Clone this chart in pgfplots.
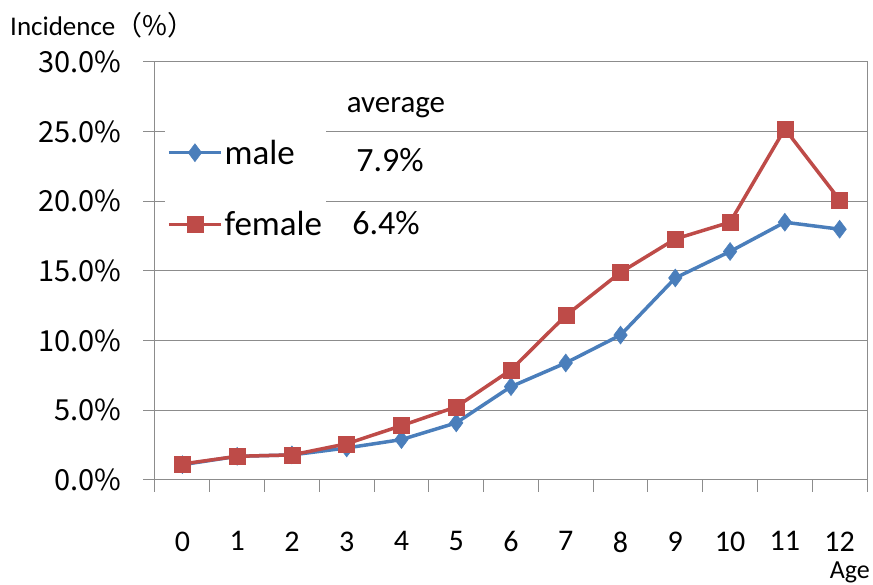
\documentclass[border=0pt]{standalone}
\usepackage{pgfplots}
\pgfplotsset{compat=1.18}
\usepackage{fontspec}
\setmainfont{Carlito}
\newfontfamily\jpfont{Noto Sans CJK JP}
\definecolor{maleblue}{HTML}{4A7EBB}
\definecolor{femred}{HTML}{BE4B48}
\definecolor{gridgray}{HTML}{8C8C8C}

\begin{document}
\begin{tikzpicture}
\begin{axis}[
    name=ax,
    scale only axis,
    width=712pt, height=418pt,
    xmin=-0.5, xmax=12.5, ymin=0, ymax=30,
    xtick={0,...,12},
    major x tick style={draw=none},
    minor xtick={-0.5,0.5,...,12.5},
    xticklabel style={font=\fontsize{30}{30}\selectfont, yshift=-36pt},
    ytick={0,5,...,30},
    yticklabel={\pgfmathprintnumber[fixed,fixed zerofill,precision=1]{\tick}\%},
    yticklabel style={font=\jpfont\fontsize{29}{29}\selectfont, xshift=-18pt},
    /pgf/number format/assume math mode=true,
    ymajorgrids,
    grid style={gridgray, line width=1pt},
    axis line style={gridgray, line width=1pt},
    every tick/.style={gridgray, line width=1pt},
    tick align=outside,
    major tick length=12pt, minor tick length=12pt,
    tick pos=left,
    clip=false,
    legend cell align=left,
    legend style={
        at={(rel axis cs:0.014,0.843)}, anchor=north west,
        draw=none, fill=white,
        font=\fontsize{35}{35}\selectfont,
        row sep=42pt,
        inner xsep=2pt, inner ysep=10pt,
    },
    legend image code/.code={
        \draw[mark repeat=2, mark phase=2] plot coordinates {(0pt,0pt) (26pt,0pt) (52pt,0pt)};
    },
]

% male
\addplot[color=maleblue, line width=3.5pt, mark=diamond*, mark size=9pt,
    mark options={solid, line width=0.5pt}] coordinates {
    (0,1.1) (1,1.7) (2,1.8) (3,2.3) (4,2.9) (5,4.1) (6,6.7)
    (7,8.4) (8,10.4) (9,14.5) (10,16.4) (11,18.5) (12,18.0)
};
\addlegendentry{male}

% female
\addplot[color=femred, line width=3.5pt, mark=square*, mark size=8pt,
    mark options={solid, line width=0.5pt}] coordinates {
    (0,1.15) (1,1.7) (2,1.8) (3,2.6) (4,3.9) (5,5.25) (6,7.9)
    (7,11.8) (8,14.9) (9,17.3) (10,18.5) (11,25.2) (12,20.1)
};
\addlegendentry{female}

\end{axis}

\node[font=\fontsize{31}{31}\selectfont] at ([shift={(241pt,372pt)}]ax.south west) {average};
\node[font=\fontsize{34}{34}\selectfont] at ([shift={(235pt,320pt)}]ax.south west) {7.9\%};
\node[font=\fontsize{34}{34}\selectfont] at ([shift={(231pt,257pt)}]ax.south west) {6.4\%};
\node[anchor=west, inner sep=0pt, font=\fontsize{27}{27}\selectfont]
    at ([shift={(-145pt,455pt)}]ax.south west) {Incidence{\jpfont （\%）}};
\node[anchor=east, inner sep=0pt, font=\fontsize{26}{26}\selectfont]
    at ([shift={(715pt,-92pt)}]ax.south west) {Age};

\pgfresetboundingbox
\path (ax.south west) ++(-155pt,-105pt) rectangle ++(873pt,585pt);
\end{tikzpicture}
\end{document}
